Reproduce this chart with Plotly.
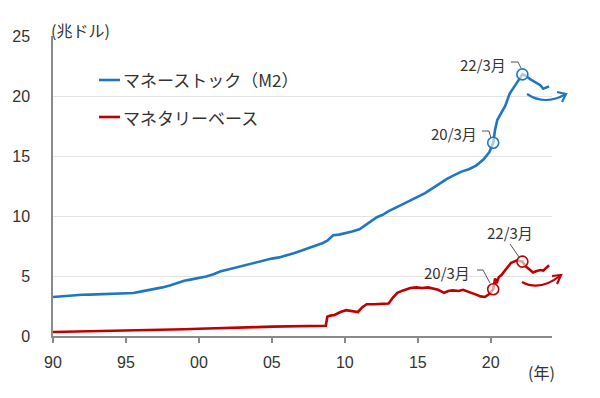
import plotly.graph_objects as go

# ---- data ----
m2_year = [1990.0, 1990.5, 1991.0, 1991.5, 1992.0, 1992.5, 1993.0, 1993.5, 1994.0, 1994.5,
           1995.0, 1995.5, 1996.0, 1996.5, 1997.0, 1997.5, 1998.0, 1998.5, 1999.0, 1999.5,
           2000.0, 2000.5, 2001.0, 2001.5, 2002.0, 2002.5, 2003.0, 2003.5, 2004.0, 2004.5,
           2005.0, 2005.5, 2006.0, 2006.5, 2007.0, 2007.5, 2008.0, 2008.5, 2008.8, 2009.2,
           2009.6, 2010.0, 2010.5, 2011.0, 2011.5, 2011.8, 2012.2, 2012.6, 2013.0, 2013.5,
           2014.0, 2014.5, 2015.0, 2015.5, 2016.0, 2016.5, 2017.0, 2017.5, 2018.0, 2018.5,
           2019.0, 2019.5, 2019.9, 2020.17, 2020.3, 2020.45, 2020.7, 2021.0, 2021.3, 2021.6,
           2021.9, 2022.17, 2022.4, 2022.7, 2023.0, 2023.2, 2023.4, 2023.6, 2023.8, 2024.0]
m2_val = [3.25, 3.3, 3.38, 3.4, 3.44, 3.45, 3.47, 3.46, 3.5, 3.52,
          3.5, 3.58, 3.7, 3.8, 3.9, 4.05, 4.2, 4.4, 4.6, 4.72,
          4.82, 4.95, 5.15, 5.4, 5.55, 5.7, 5.85, 6.05, 6.15, 6.3,
          6.45, 6.55, 6.7, 6.9, 7.1, 7.3, 7.55, 7.75, 7.95, 8.4,
          8.45, 8.55, 8.7, 8.9, 9.3, 9.6, 9.9, 10.1, 10.4, 10.7,
          11.0, 11.3, 11.6, 11.9, 12.3, 12.7, 13.1, 13.4, 13.7, 13.9,
          14.2, 14.7, 15.3, 16.1, 17.2, 18.0, 18.5, 19.2, 20.2, 20.7,
          21.3, 21.8, 21.7, 21.4, 21.2, 21.0, 20.9, 20.6, 20.7, 20.8]

mb_year = [1990.0, 1991.0, 1992.0, 1993.0, 1994.0, 1995.0, 1996.0, 1997.0, 1998.0, 1999.0,
           2000.0, 2001.0, 2002.0, 2003.0, 2004.0, 2005.0, 2006.0, 2007.0, 2008.0, 2008.7,
           2008.8, 2009.0, 2009.3, 2009.7, 2010.1, 2010.5, 2010.9, 2011.2, 2011.5, 2012.0,
           2012.6, 2013.0, 2013.3, 2013.6, 2014.0, 2014.5, 2014.9, 2015.3, 2015.7, 2016.0,
           2016.4, 2016.8, 2017.1, 2017.4, 2017.8, 2018.1, 2018.5, 2019.0, 2019.3, 2019.6,
           2019.9, 2020.17, 2020.3, 2020.4, 2020.55, 2020.75, 2021.0, 2021.2, 2021.4, 2021.6,
           2021.8, 2022.17, 2022.4, 2022.6, 2022.9, 2023.1, 2023.4, 2023.6, 2023.8, 2024.0]
mb_val = [0.33, 0.35, 0.37, 0.4, 0.42, 0.44, 0.46, 0.48, 0.52, 0.56,
          0.6, 0.62, 0.66, 0.7, 0.74, 0.78, 0.8, 0.83, 0.85, 0.86,
          1.6, 1.7, 1.75, 2.0, 2.15, 2.05, 2.0, 2.4, 2.65, 2.65,
          2.65, 2.7, 3.2, 3.6, 3.8, 4.0, 4.05, 4.0, 4.05, 3.95,
          3.85, 3.6, 3.75, 3.8, 3.75, 3.85, 3.7, 3.45, 3.3, 3.25,
          3.5, 3.9, 4.8, 4.4, 4.9, 5.1, 5.5, 5.8, 6.1, 6.2,
          6.3, 6.2, 5.8, 5.6, 5.3, 5.4, 5.5, 5.45, 5.7, 5.9]

x_tick_vals = [1990, 1995, 2000, 2005, 2010, 2015, 2020]
x_tick_text = ["90", "95", "00", "05", "10", "15", "20"]
y_tick_vals = [0, 5, 10, 15, 20, 25]

m2_name = "マネーストック（M2）"
mb_name = "マネタリーベース"
mark_label = {2020.17: "20/3月", 2022.17: "22/3月"}

BLUE = "#1f77c0"
RED = "#c00000"
TXT = "#333333"
JP = "Noto Sans CJK JP"

# page has an 8px body margin: figure sized/offset so the plot area lands
# at page pixels x 53..552, y 36..336
OFF = 8
W, H = 584, 382
L, T = 53 - OFF, 36 - OFF
PW, PH = 499, 300
R = W - L - PW
B = H - T - PH


def px(xp, yp):
    """page pixel -> paper coordinates (for decorations only)"""
    return (xp - 53) / PW, (336 - yp) / PH


fig = go.Figure()
fig.add_trace(go.Scatter(x=m2_year, y=m2_val, mode="lines", name=m2_name,
                         showlegend=False, line=dict(color=BLUE, width=2.6)))
fig.add_trace(go.Scatter(x=mb_year, y=mb_val, mode="lines", name=mb_name,
                         showlegend=False, line=dict(color=RED, width=2.6)))

# circled points at 20/3 and 22/3
for yrs, vals, col in [(m2_year, m2_val, BLUE), (mb_year, mb_val, RED)]:
    cx = [x for x in yrs if x in mark_label]
    cy = [vals[yrs.index(x)] for x in cx]
    fig.add_trace(go.Scatter(x=cx, y=cy, mode="markers", showlegend=False,
                             marker=dict(size=11, color="rgba(255,255,255,0.6)",
                                         line=dict(color=col, width=1.6))))

annotations = []
shapes = []

# manual legend
for name, col, ypix in [(m2_name, BLUE, 80), (mb_name, RED, 117)]:
    a = px(99, ypix); b = px(120, ypix); t = px(121, ypix)
    shapes.append(dict(type="line", xref="paper", yref="paper",
                       x0=a[0], y0=a[1], x1=b[0], y1=b[1],
                       line=dict(color=col, width=2.6)))
    annotations.append(dict(text=name, xref="paper", yref="paper", x=t[0], y=t[1],
                            xanchor="left", yanchor="middle", showarrow=False,
                            font=dict(family=JP, size=17, color=TXT)))

# labels + leader lines
label_specs = [
    (2020.17, (454, 133), [(482, 131), (489, 131), (491, 138)]),
    (2022.17, (483, 64), [(511, 62), (518, 62), (521, 68)]),
    (2020.17, (447, 272), [(477, 270), (483, 270), (490, 283)]),
    (2022.17, (510, 232), [(510, 244), (519, 257)]),
]
for yr, (tx, ty), path_pts in label_specs:
    ax_, ay_ = px(tx, ty)
    annotations.append(dict(text=mark_label[yr], xref="paper", yref="paper",
                            x=ax_, y=ay_, xanchor="center", yanchor="middle",
                            showarrow=False,
                            font=dict(family=JP, size=15, color=TXT)))
    d = ""
    for i, (a, b) in enumerate(path_pts):
        pxx, pyy = px(a, b)
        d += ("M" if i == 0 else "L") + f"{pxx},{pyy} "
    shapes.append(dict(type="path", path=d, xref="paper", yref="paper",
                       line=dict(color="#555555", width=1)))


# curved "rising" arrows
def curve(p0, c, p1, head1, head2, col):
    a = px(*p0); b = px(*c); e = px(*p1); h1 = px(*head1); h2 = px(*head2)
    shapes.append(dict(type="path", xref="paper", yref="paper",
                       path=f"M{a[0]},{a[1]} Q{b[0]},{b[1]} {e[0]},{e[1]}",
                       line=dict(color=col, width=2.2)))
    shapes.append(dict(type="path", xref="paper", yref="paper",
                       path=f"M{h1[0]},{h1[1]} L{e[0]},{e[1]} L{h2[0]},{h2[1]}",
                       line=dict(color=col, width=2.2)))


curve((527, 94), (545, 106), (566, 94), (557, 92), (562, 102), BLUE)
curve((522, 282), (540, 292), (561, 275), (552, 276), (557, 284), RED)

# unit labels
ux, uy = px(49, 30)
annotations.append(dict(text="(兆ドル)", xref="paper", yref="paper", x=ux, y=uy,
                        xanchor="left", yanchor="middle", showarrow=False,
                        font=dict(family=JP, size=16, color=TXT)))
nx, ny = px(526, 372)
annotations.append(dict(text="(年)", xref="paper", yref="paper", x=nx, y=ny,
                        xanchor="left", yanchor="middle",
                        showarrow=False, font=dict(family=JP, size=16, color=TXT)))

fig.update_layout(
    template="none",
    width=W, height=H,
    margin=dict(l=L, r=R, t=T, b=B, autoexpand=False),
    paper_bgcolor="white", plot_bgcolor="white",
    showlegend=False,
    xaxis=dict(range=[1990, 2024.2], tickvals=x_tick_vals, ticktext=x_tick_text,
               showgrid=False, showline=True, linecolor="#8a8a8a", linewidth=1.5,
               ticks="outside", ticklen=5, tickcolor="#8a8a8a", tickwidth=1.5,
               ticklabelstandoff=6, zeroline=False, automargin=False,
               tickfont=dict(family="Liberation Sans, Arial", size=16, color=TXT)),
    yaxis=dict(range=[0, 25], tickvals=y_tick_vals, showgrid=True,
               gridcolor="#e3e3e3", gridwidth=1, showline=True,
               linecolor="#8a8a8a", linewidth=1.5, ticks="", zeroline=False,
               ticklabelstandoff=18, automargin=False,
               tickfont=dict(family="Liberation Sans, Arial", size=16, color=TXT)),
    annotations=annotations,
    shapes=shapes,
)

fig.write_html("out.html")
